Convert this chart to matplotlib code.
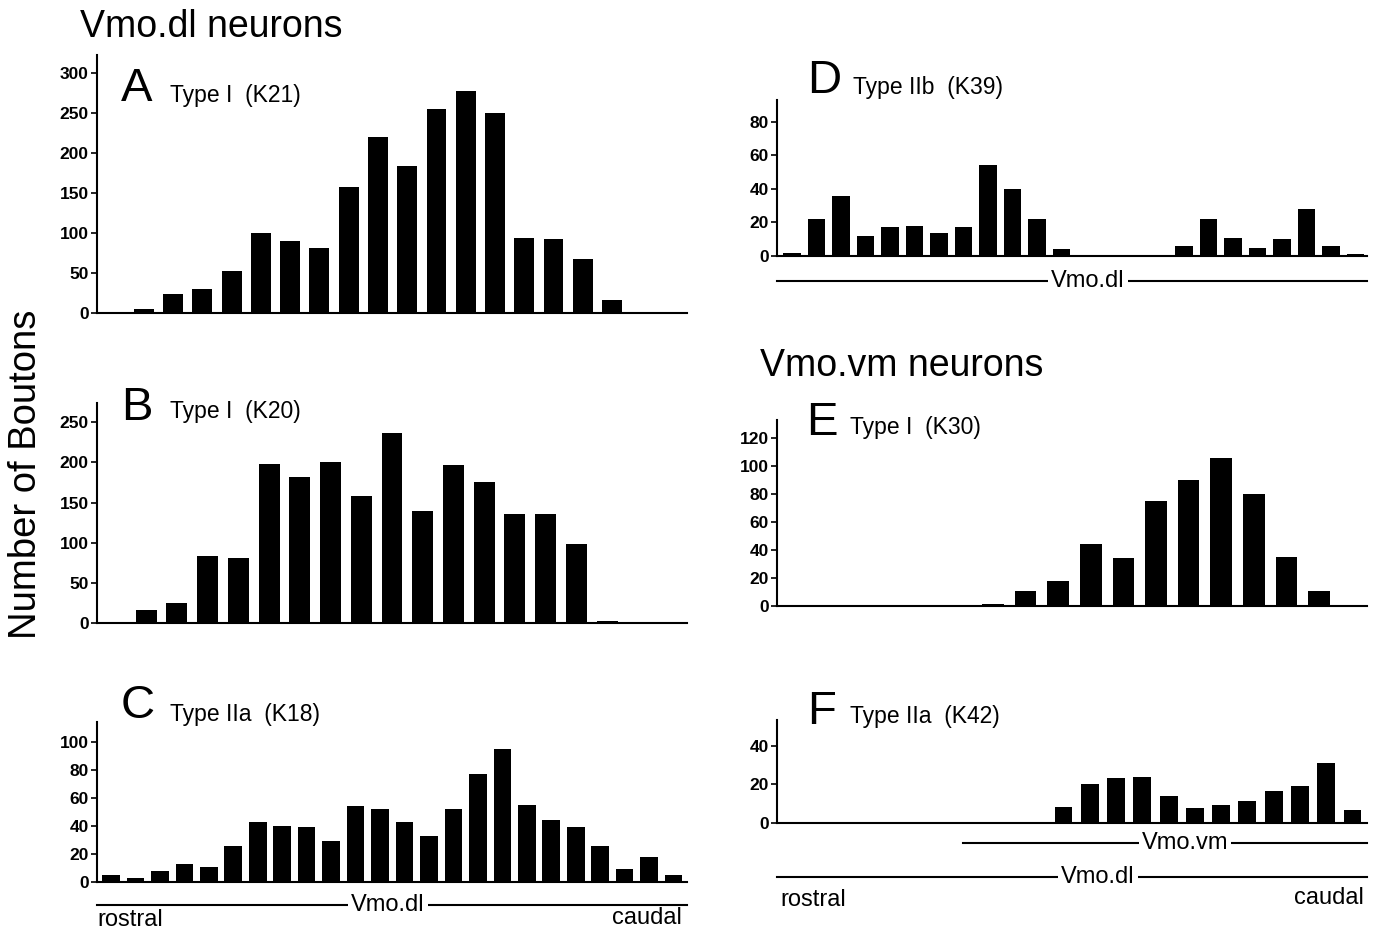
import matplotlib.pyplot as plt
from matplotlib.lines import Line2D
import numpy as np

plt.rcParams['font.family'] = ['Liberation Sans', 'DejaVu Sans']

W, H = 1384, 936

# boutons per section, rostral -> caudal
a_vals = [0, 5, 24, 30, 52, 100, 90, 81, 157, 220, 183, 254, 277, 250, 93, 92, 67, 16, 0, 0]
b_vals = [0, 16, 25, 83, 81, 198, 182, 201, 158, 237, 140, 197, 175, 136, 136, 98, 3, 0, 0]
c_vals = [5, 3, 8, 13, 11, 26, 43, 40, 39, 29, 54, 52, 43, 33, 52, 77, 95, 55, 44, 39, 26, 9, 18, 5]
d_vals = [2, 22, 36, 12, 17, 18, 14, 17, 54, 40, 22, 4, 0, 0, 0, 0, 6, 22, 11, 5, 10, 28, 6, 1]
e_vals = [0, 0, 0, 0, 0, 0, 1.5, 11, 18, 44, 34, 75, 90, 106, 80, 35, 11, 0]
f_vals = [0, 0, 0, 0, 0, 0, 0, 0, 0, 0, 8.5, 20, 23.5, 24, 14, 8, 9.5, 11.5, 16.5, 19, 31, 7]

a_ticks = [0, 50, 100, 150, 200, 250, 300]
b_ticks = [0, 50, 100, 150, 200, 250]
c_ticks = [0, 20, 40, 60, 80, 100]
d_ticks = [0, 20, 40, 60, 80]
e_ticks = [0, 20, 40, 60, 80, 100, 120]
f_ticks = [0, 20, 40]

fig = plt.figure(figsize=(W / 100, H / 100), dpi=100)


def fx(x):
    return x / W


def fy(y):
    return 1 - y / H


def add_panel(left, zero, top, right, vals, ymax, yticks, xlim, width=0.68):
    ax = fig.add_axes([fx(left), fy(zero), (right - left) / W, (zero - top) / H])
    x = np.arange(len(vals))
    ax.bar(x, vals, width=width, color='black', linewidth=0)
    ax.set_xlim(*xlim)
    ax.set_ylim(0, ymax)
    ax.set_yticks(yticks)
    ax.set_xticks([])
    for s in ['top', 'right']:
        ax.spines[s].set_visible(False)
    for s in ['left', 'bottom']:
        ax.spines[s].set_linewidth(1.5)
    ax.tick_params(axis='y', direction='out', length=4, width=1.2, pad=2)
    for lab in ax.get_yticklabels():
        lab.set_fontsize(12.5)
        lab.set_fontweight('bold')
    return ax


add_panel(97, 313, 55, 687, a_vals, 322, a_ticks, (-0.6, 19.56))
add_panel(97, 623, 403, 687, b_vals, 274, b_ticks, (-0.6, 18.6))
add_panel(97, 882, 722, 687, c_vals, 114, c_ticks, (-0.57, 23.55), width=0.72)
add_panel(777, 256, 100, 1367, d_vals, 93, d_ticks, (-0.61, 23.47), width=0.71)
add_panel(777, 606, 420, 1367, e_vals, 133, e_ticks, (-0.62, 17.47), width=0.66)
add_panel(777, 823, 720, 1367, f_vals, 53.5, f_ticks, (-0.9, 21.55))

# headings
fig.text(fx(80), fy(37), 'Vmo.dl neurons', fontsize=27, va='baseline')
fig.text(fx(760), fy(376), 'Vmo.vm neurons', fontsize=27, va='baseline')
fig.text(fx(26), fy(474), 'Number of Boutons', fontsize=27.5, rotation=90,
         ha='center', va='center')

# panel letters and labels
panels = [
    ('A', 'Type I  (K21)', 121, 101, 170, 102),
    ('B', 'Type I  (K20)', 121, 420, 170, 418),
    ('C', 'Type IIa  (K18)', 121, 718, 170, 721),
    ('D', 'Type IIb  (K39)', 807, 93, 853, 94),
    ('E', 'Type I  (K30)', 806, 435, 850, 434),
    ('F', 'Type IIa  (K42)', 807, 724, 850, 723),
]
for letter, label, lx, ly, tx, ty in panels:
    fig.text(fx(lx), fy(ly), letter, fontsize=34, va='baseline')
    fig.text(fx(tx), fy(ty), label, fontsize=16.5, va='baseline')


def region_line(x0, x1, y, name, xc):
    fig.add_artist(Line2D([fx(x0), fx(x1)], [fy(y), fy(y)], color='black',
                          linewidth=1.5, transform=fig.transFigure))
    fig.text(fx(xc), fy(y), name, fontsize=17, ha='center', va='center',
             bbox=dict(facecolor='white', edgecolor='none', pad=2))


# region bars under panels
region_line(97, 687, 905, 'Vmo.dl', 388)
fig.text(fx(97), fy(920), 'rostral', fontsize=17, va='center')
fig.text(fx(682), fy(918), 'caudal', fontsize=17, va='center', ha='right')

region_line(777, 1367, 281, 'Vmo.dl', 1088)

region_line(963, 1367, 843, 'Vmo.vm', 1185)
region_line(777, 1367, 877, 'Vmo.dl', 1098)
fig.text(fx(780), fy(900), 'rostral', fontsize=17, va='center')
fig.text(fx(1364), fy(898), 'caudal', fontsize=17, va='center', ha='right')

plt.savefig('out.png', dpi=100)
